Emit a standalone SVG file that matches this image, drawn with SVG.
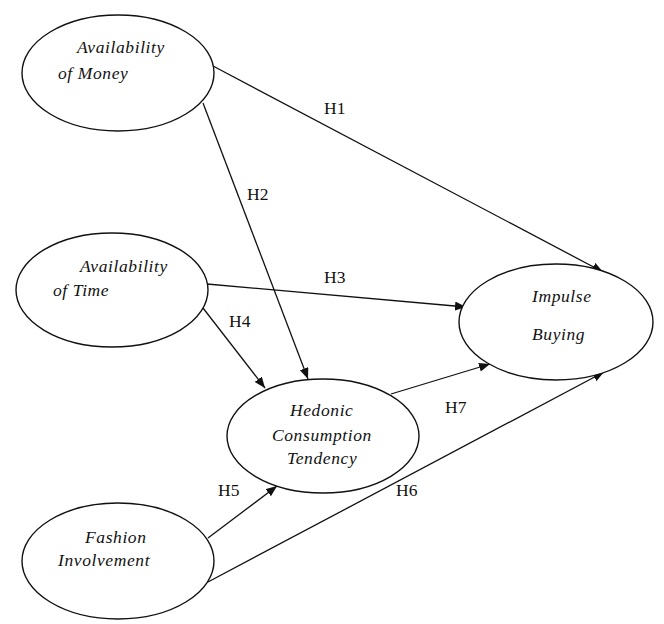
<svg xmlns="http://www.w3.org/2000/svg" width="664" height="624" viewBox="0 0 664 624">
<style>
.node ellipse{fill:#fff;stroke:#111;stroke-width:1.4}
.node text{font-family:'Liberation Serif','Times New Roman',serif;font-style:italic;font-size:17.5px;fill:#111;letter-spacing:0.6px}
.edge line{stroke:#111;stroke-width:1.3;fill:none}
.lbl{font-family:'Liberation Serif','Times New Roman',serif;font-size:17.5px;fill:#111}
</style>
<defs>
<marker id="ah" markerUnits="userSpaceOnUse" markerWidth="12" markerHeight="10" refX="11" refY="4.5" orient="auto">
<path d="M0,0 L11,4.5 L0,9 Z" fill="#111"/>
</marker>
</defs>
<rect width="664" height="624" fill="#fff"/>
<g id="connectors" class="edge">
<line x1="213" y1="66" x2="603" y2="272" marker-end="url(#ah)"/>
<line x1="203" y1="103" x2="308" y2="379" marker-end="url(#ah)"/>
<line x1="207" y1="284" x2="466" y2="307" marker-end="url(#ah)"/>
<line x1="203" y1="308" x2="265" y2="388" marker-end="url(#ah)"/>
<line x1="391" y1="394" x2="490" y2="364" marker-end="url(#ah)"/>
<line x1="208" y1="538" x2="277" y2="486" marker-end="url(#ah)"/>
<line x1="208" y1="582" x2="604" y2="372" marker-end="url(#ah)"/>
</g>
<g id="labels">
<text class="lbl" x="324" y="114">H1</text>
<text class="lbl" x="247" y="200">H2</text>
<text class="lbl" x="324" y="283">H3</text>
<text class="lbl" x="229" y="327">H4</text>
<text class="lbl" x="218" y="496">H5</text>
<text class="lbl" x="396" y="496">H6</text>
<text class="lbl" x="445" y="413">H7</text>
</g>
<g id="money" class="node">
<ellipse cx="118" cy="73" rx="96" ry="58"/>
<text x="77" y="53">Availability</text>
<text x="58" y="79">of Money</text>
</g>
<g id="time" class="node">
<ellipse cx="112" cy="290" rx="96" ry="57"/>
<text x="80" y="272">Availability</text>
<text x="53" y="296">of Time</text>
</g>
<g id="impulse" class="node">
<ellipse cx="556" cy="322" rx="97" ry="58"/>
<text x="532" y="302">Impulse</text>
<text x="532" y="340">Buying</text>
</g>
<g id="hedonic" class="node">
<ellipse cx="323" cy="436" rx="96" ry="57"/>
<text x="290" y="416">Hedonic</text>
<text x="272" y="441">Consumption</text>
<text x="287" y="464">Tendency</text>
</g>
<g id="fashion" class="node">
<ellipse cx="118" cy="561" rx="96" ry="58"/>
<text x="85" y="543">Fashion</text>
<text x="58" y="566">Involvement</text>
</g>
</svg>
